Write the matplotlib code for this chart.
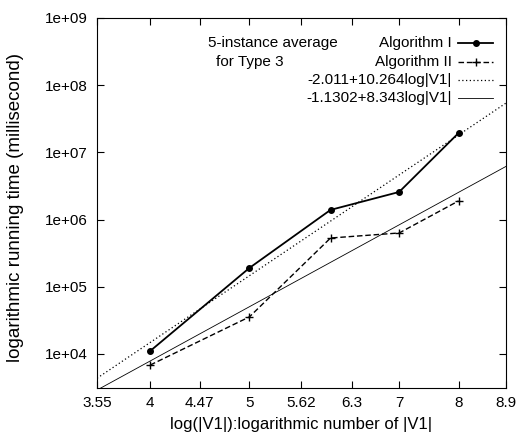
import matplotlib
matplotlib.use('Agg')
import matplotlib.pyplot as plt
import numpy as np

plt.rcParams['font.family'] = ['Liberation Sans', 'DejaVu Sans']

# log(|V1|) values and average running times (ms)
sizes = [4, 5, 6, 7, 8]
alg1 = [1.1e4, 1.9e5, 1.39e6, 2.57e6, 1.94e7]
alg2 = [6.8e3, 3.55e4, 5.3e5, 6.3e5, 1.89e6]

# fitted lines: log10(t) = a + b*log10(x)
fit1 = (-2.011, 10.264)
fit2 = (-1.1302, 8.343)

xticks = [3.55, 4, 4.47, 5, 5.62, 6.3, 7, 8, 8.9]
xticklabels = ['3.55', '4', '4.47', '5', '5.62', '6.3', '7', '8', '8.9']
yticks = [1e4, 1e5, 1e6, 1e7, 1e8, 1e9]
yticklabels = ['1e+04', '1e+05', '1e+06', '1e+07', '1e+08', '1e+09']

fig = plt.figure(figsize=(5.18, 4.34), dpi=100)
ax = fig.add_axes([97/518, 1 - 388/434, 409/518, 370/434])

# fitted lines over the whole x range
xs = np.linspace(3.55, 8.9, 200)
ax.plot(xs, 10 ** (fit1[0] + fit1[1] * np.log10(xs)), color='black',
        lw=0.9, linestyle=(0, (1, 2)))
ax.plot(xs, 10 ** (fit2[0] + fit2[1] * np.log10(xs)), color='black', lw=0.6)

# measured data
ax.plot(sizes, alg1, color='black', lw=1.3, marker='o', markersize=4)
ax.plot(sizes, alg2, color='black', lw=1.0, linestyle=(0, (4, 2)),
        marker='+', markersize=6, markeredgewidth=1.0)

ax.set_xscale('log')
ax.set_yscale('log')
ax.set_xlim(3.55, 8.9)
ax.set_ylim(3100, 1e9)
ax.set_xticks(xticks)
ax.set_xticklabels(xticklabels)
ax.set_yticks(yticks)
ax.set_yticklabels(yticklabels)
ax.minorticks_off()
ax.tick_params(direction='in', length=5, top=True, right=True, labelsize=11)
ax.tick_params(axis='y', pad=7)
ax.tick_params(axis='x', pad=6)

ax.set_xlabel('log(|V1|):logarithmic number of |V1|', fontsize=12)
ax.set_ylabel('logarithmic running time (millisecond)', fontsize=13.5)
ax.xaxis.set_label_coords(0.5, -0.078)
ax.yaxis.set_label_coords(-0.178, 0.489)

# legend, gnuplot style: right-aligned labels with the line sample after them
ax.text(0.271, 0.932, '5-instance average', transform=ax.transAxes,
        fontsize=11, ha='left', va='center')
ax.text(0.29, 0.881, 'for Type 3', transform=ax.transAxes,
        fontsize=11, ha='left', va='center')

rows = [0.932, 0.881, 0.832, 0.784]
labels = ['Algorithm I', 'Algorithm II', '-2.011+10.264log|V1|', '-1.1302+8.343log|V1|']
styles = [dict(lw=1.3, marker='o', markersize=4),
          dict(lw=1.0, linestyle=(0, (4, 2)), marker='+', markersize=6),
          dict(lw=0.9, linestyle=(0, (1, 2))),
          dict(lw=0.6)]
for yy, lab, st in zip(rows, labels, styles):
    ax.text(0.868, yy, lab, transform=ax.transAxes, fontsize=11,
            ha='right', va='center')
    mk = st.pop('marker', None)
    ms = st.pop('markersize', None)
    ax.plot([0.883, 0.968], [yy, yy], transform=ax.transAxes, color='black', **st)
    if mk:
        ax.plot([0.9255], [yy], transform=ax.transAxes, color='black',
                marker=mk, markersize=ms, linestyle='none')

fig.savefig('out.png', dpi=100)
